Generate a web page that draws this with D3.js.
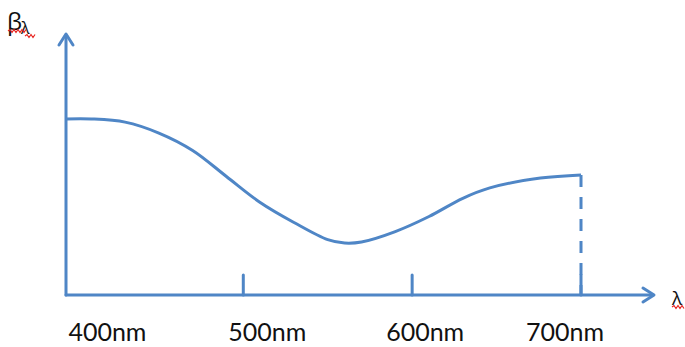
<!DOCTYPE html>
<html>
<head>
<meta charset="utf-8">
<script src="https://cdn.jsdelivr.net/npm/d3@7"></script>
<style>
  html, body { margin: 0; padding: 0; background: #fff; }
  svg { display: block; }
</style>
</head>
<body>
<svg id="chart" width="685" height="347"></svg>
<script>
// Spectral curve β(λ): wavelength in nm, relative value
const wavelengths = [395, 410, 430, 450, 470, 490, 510, 530, 550, 560, 570, 590, 610, 630, 646, 676, 700];
const betaValues  = [0.677, 0.677, 0.665, 0.623, 0.556, 0.456, 0.356, 0.279, 0.213, 0.200, 0.204, 0.244, 0.302, 0.372, 0.412, 0.450, 0.462];
const tickValues  = [400, 500, 600, 700];
const tickLabels  = ["400nm", "500nm", "600nm", "700nm"];
const tickLabelDx = [33, 24, 13, -16];
const cutoff = 700;

const blue = "#4f86c6";
const svg = d3.select("#chart");

const x = d3.scaleLinear().domain([395, 700]).range([66, 581]);
const y = d3.scaleLinear().domain([0, 1]).range([295, 35]);

const x0 = x.range()[0], yBase = y(0);
const xEnd = 654, yTop = 34;

// axes with arrow heads
const axisG = svg.append("g").attr("stroke", blue).attr("stroke-width", 3).attr("fill", "none")
  .attr("stroke-linecap", "round");
axisG.append("line").attr("x1", x0).attr("y1", yBase).attr("x2", x0).attr("y2", yTop + 2);
axisG.append("line").attr("x1", x0).attr("y1", yBase).attr("x2", xEnd - 2).attr("y2", yBase);
axisG.append("path").attr("stroke-linejoin", "round")
  .attr("d", `M${x0 - 7},${yTop + 11} L${x0},${yTop} L${x0 + 7},${yTop + 11}`);
axisG.append("path").attr("stroke-linejoin", "round")
  .attr("d", `M${xEnd - 11},${yBase - 7} L${xEnd},${yBase} L${xEnd - 11},${yBase + 7}`);

// tick marks (the 400 position sits on the vertical axis)
axisG.selectAll("line.tick").data(tickValues.slice(1)).join("line").attr("class", "tick")
  .attr("x1", d => x(d)).attr("x2", d => x(d))
  .attr("y1", yBase).attr("y2", yBase - 20);

// dashed drop line at the cutoff wavelength
const endIdx = wavelengths.indexOf(cutoff);
svg.append("line")
  .attr("x1", x(cutoff)).attr("x2", x(cutoff))
  .attr("y1", y(betaValues[endIdx])).attr("y2", yBase)
  .attr("stroke", blue).attr("stroke-width", 3).attr("stroke-dasharray", "12,10");

// curve
const line = d3.line()
  .x((d, i) => x(wavelengths[i]))
  .y(d => y(d))
  .curve(d3.curveCatmullRom.alpha(0.5));
svg.append("path").datum(betaValues)
  .attr("d", line)
  .attr("fill", "none").attr("stroke", blue).attr("stroke-width", 3)
  .attr("stroke-linejoin", "round");

// tick labels
svg.selectAll("text.tl").data(tickValues).join("text").attr("class", "tl")
  .attr("x", (d, i) => x(d) + tickLabelDx[i])
  .attr("y", 341)
  .attr("text-anchor", "middle")
  .attr("font-family", "Lato, 'Open Sans', sans-serif")
  .attr("font-size", 25)
  .attr("fill", "#111")
  .text((d, i) => tickLabels[i]);

// squiggly underline
function squiggle(x1, x2, yy) {
  let d = `M${x1},${yy}`;
  let up = true;
  for (let px = x1 + 2; px <= x2; px += 2) {
    d += ` L${px},${yy + (up ? -1.5 : 1.5)}`;
    up = !up;
  }
  return d;
}

// axis titles
const yTitle = svg.append("text")
  .attr("x", 7).attr("y", 30)
  .attr("font-family", "'Open Sans', 'DejaVu Sans', sans-serif")
  .attr("font-size", 24).attr("fill", "#111");
yTitle.append("tspan").text("β");
yTitle.append("tspan").attr("font-size", 16).attr("dx", -1).attr("dy", 4).text("λ");
svg.append("path").attr("d", squiggle(8, 26, 31)).attr("fill", "none").attr("stroke", "#e8231e").attr("stroke-width", 1.2);
svg.append("path").attr("d", squiggle(25, 36, 36)).attr("fill", "none").attr("stroke", "#e8231e").attr("stroke-width", 1.2);

svg.append("text")
  .attr("x", 672).attr("y", 305)
  .attr("font-family", "'Open Sans', sans-serif")
  .attr("font-size", 19).attr("fill", "#111")
  .text("λ");
svg.append("path").attr("d", squiggle(672, 684, 307)).attr("fill", "none").attr("stroke", "#e8231e").attr("stroke-width", 1.2);
</script>
</body>
</html>
